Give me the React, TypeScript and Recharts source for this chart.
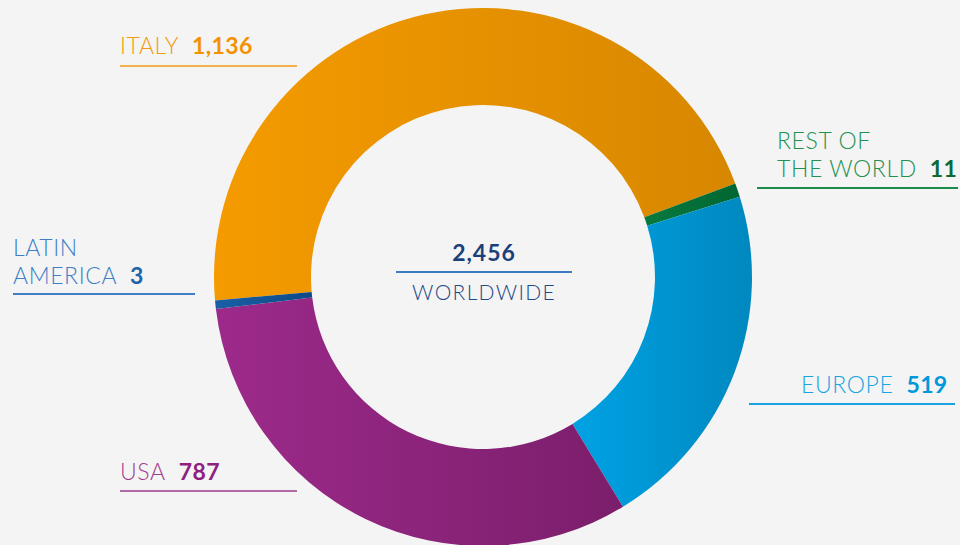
import React from 'react';
import { PieChart, Pie, Cell } from 'recharts';

// Employees by region
const regions = ['ITALY', 'REST OF THE WORLD', 'EUROPE', 'USA', 'LATIN AMERICA'];
const values = [1136, 11, 519, 787, 3];
const gradientIds = ['gItaly', 'gRest', 'gEurope', 'gUsa', 'gLatam'];
const totalLabel = 'WORLDWIDE';

const data = regions.map((name, i) => ({ name, value: values[i] }));
const total = values.reduce((a, b) => a + b, 0);
const fmt = (n: number) => n.toLocaleString('en-US');

const FONT = 'Lato, "Noto Sans", sans-serif';

interface LabelProps {
    lines: string[];
    value: number;
    left: number;
    top: number;
    lineLeft: number;
    lineRight: number;
    lineTop: number;
    textColor: string;
    numColor: string;
    lineColor: string;
}

const RegionLabel: React.FC<LabelProps> = ({ lines, value, left, top, lineLeft, lineRight, lineTop, textColor, numColor, lineColor }) => (
    <>
        <div style={{
            position: 'absolute', left, top, fontFamily: FONT, fontSize: 23, lineHeight: '28px',
            color: textColor, fontWeight: 300, whiteSpace: 'nowrap', letterSpacing: 0.6,
        }}>
            {lines.map((l, i) => (
                <div key={i}>
                    {l}
                    {i === lines.length - 1 && (
                        <span style={{ color: numColor, fontWeight: 700, marginLeft: 13, letterSpacing: 0.4 }}>{fmt(value)}</span>
                    )}
                </div>
            ))}
        </div>
        <div style={{ position: 'absolute', left: lineLeft, top: lineTop, width: lineRight - lineLeft, height: 1.6, background: lineColor }} />
    </>
);

const App: React.FC = () => {
    return (
        <div style={{ position: 'absolute', left: 0, top: 0, width: 960, height: 545, background: '#f4f4f4', overflow: 'hidden' }}>
            <svg width={0} height={0} style={{ position: 'absolute' }}>
                <defs>
                    <linearGradient id="gItaly" x1="0" y1="0" x2="1" y2="0">
                        <stop offset="0%" stopColor="#f59b00" />
                        <stop offset="100%" stopColor="#d78700" />
                    </linearGradient>
                    <linearGradient id="gRest" x1="0" y1="0" x2="1" y2="0">
                        <stop offset="0%" stopColor="#087a3e" />
                        <stop offset="100%" stopColor="#006632" />
                    </linearGradient>
                    <linearGradient id="gEurope" x1="0" y1="0" x2="1" y2="0">
                        <stop offset="0%" stopColor="#00a2e4" />
                        <stop offset="100%" stopColor="#0088bf" />
                    </linearGradient>
                    <linearGradient id="gUsa" x1="0" y1="0" x2="1" y2="0">
                        <stop offset="0%" stopColor="#9d2a8b" />
                        <stop offset="100%" stopColor="#7b1e6b" />
                    </linearGradient>
                    <linearGradient id="gLatam" x1="0" y1="0" x2="1" y2="0">
                        <stop offset="0%" stopColor="#1a5fa6" />
                        <stop offset="100%" stopColor="#0c4a86" />
                    </linearGradient>
                </defs>
            </svg>
            <PieChart width={960} height={545} margin={{ top: 0, right: 0, bottom: 0, left: 0 }}>
                <Pie
                    data={data}
                    dataKey="value"
                    nameKey="name"
                    cx={483}
                    cy={277}
                    innerRadius={172}
                    outerRadius={269}
                    startAngle={185}
                    endAngle={-175}
                    minAngle={1.4}
                    stroke="none"
                    isAnimationActive={false}
                >
                    {data.map((entry, index) => (
                        <Cell key={`cell-${index}`} fill={`url(#${gradientIds[index]})`} />
                    ))}
                </Pie>
            </PieChart>

            {/* center total */}
            <div style={{ position: 'absolute', left: 396, width: 176, top: 238, textAlign: 'center', fontFamily: FONT, fontSize: 23, fontWeight: 700, color: '#1b3f78', letterSpacing: 1 }}>
                {fmt(total)}
            </div>
            <div style={{ position: 'absolute', left: 396, top: 271, width: 176, height: 1.6, background: '#3b7bc2' }} />
            <div style={{ position: 'absolute', left: 376, width: 216, top: 279, textAlign: 'center', fontFamily: FONT, fontSize: 21, fontWeight: 300, color: '#1f4a86', letterSpacing: 1.3 }}>
                {totalLabel}
            </div>

            <RegionLabel lines={[regions[0]]} value={values[0]} left={120} top={31}
                lineLeft={120} lineRight={297} lineTop={65} textColor="#f39a0c" numColor="#f39200" lineColor="#f4b04c" />
            <RegionLabel lines={['REST OF', 'THE WORLD']} value={values[1]} left={777} top={126}
                lineLeft={757} lineRight={958} lineTop={187} textColor="#1f9150" numColor="#0b6b36" lineColor="#1b8a4a" />
            <RegionLabel lines={['LATIN', 'AMERICA']} value={values[4]} left={13} top={233}
                lineLeft={13} lineRight={195} lineTop={293} textColor="#3e7fc6" numColor="#1f63aa" lineColor="#3e7fc6" />
            <RegionLabel lines={[regions[2]]} value={values[2]} left={801} top={370}
                lineLeft={749} lineRight={955} lineTop={403} textColor="#1aa5e2" numColor="#0098da" lineColor="#1aa5e2" />
            <RegionLabel lines={[regions[3]]} value={values[3]} left={120} top={457}
                lineLeft={120} lineRight={297} lineTop={490} textColor="#a03d90" numColor="#8e2180" lineColor="#b06aa3" />
        </div>
    );
};

export default App;
